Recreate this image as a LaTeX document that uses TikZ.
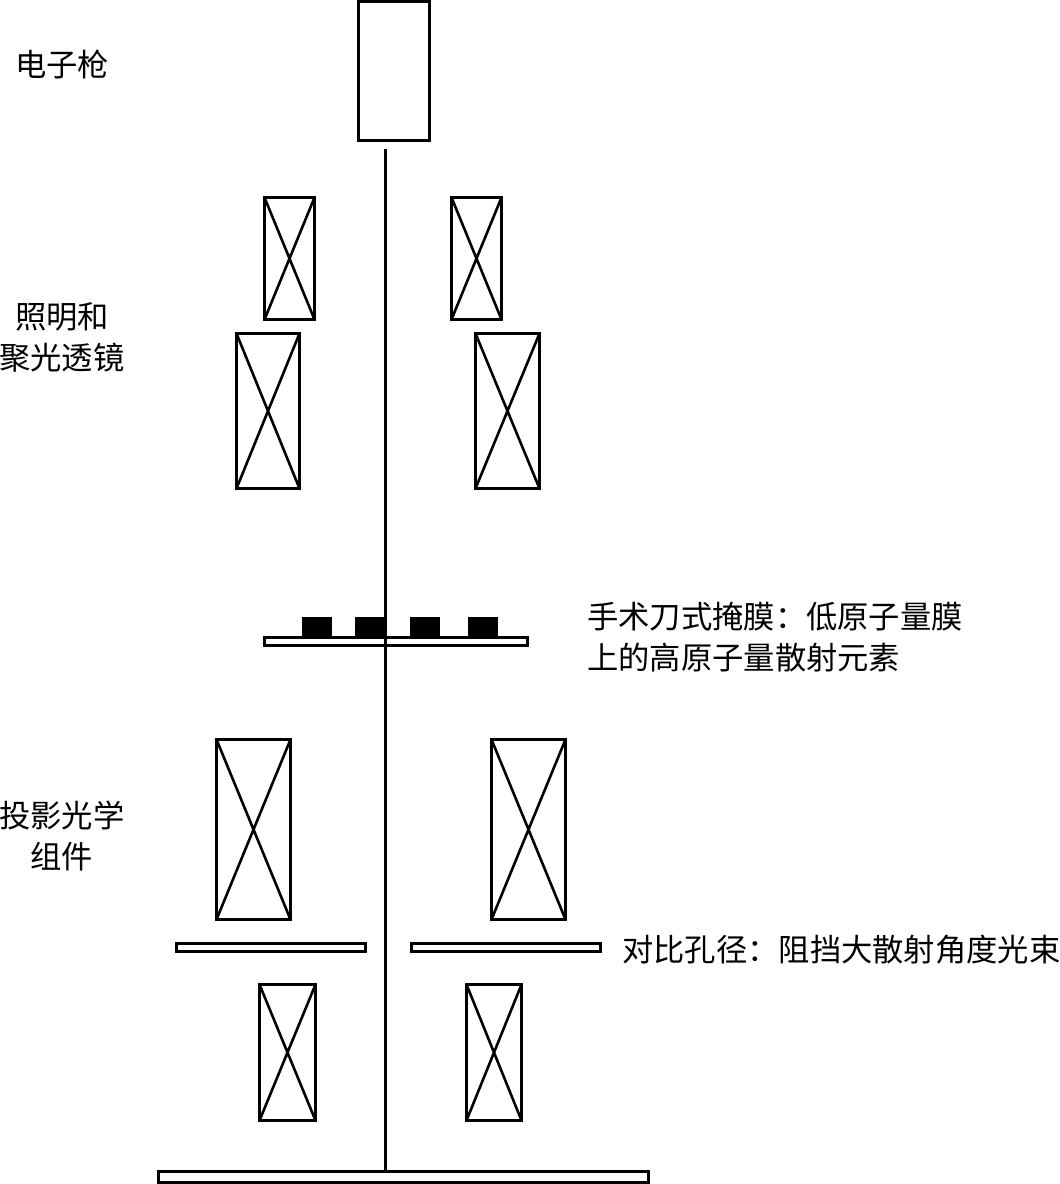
\documentclass[tikz,border=0pt]{standalone}
\usepackage{fontspec}
\setmainfont{Noto Sans CJK SC}
\tikzset{
  box/.style={draw=black,line width=3pt,fill=white,inner sep=0pt},
  lens/.style={box,path picture={\draw[line width=2.6pt] (path picture bounding box.north west) -- (path picture bounding box.south east) (path picture bounding box.north east) -- (path picture bounding box.south west);}},
  block/.style={draw=black,fill=black,inner sep=0pt,minimum width=29pt,minimum height=19pt},
  lbl/.style={inner sep=0pt,font=\fontsize{31.3}{41}\selectfont}
}
\begin{document}
\begin{tikzpicture}[x=1pt,y=-1pt]
	\useasboundingbox (0,0) rectangle (1060,1184);

	\node (gun)	at	(394,70.5) [box,minimum width=71pt,minimum height=139pt] {};
	\node (lensa)	at	(289.5,258.5) [lens,minimum width=50pt,minimum height=122pt] {};
	\node (lensb)	at	(476.5,258.5) [lens,minimum width=50pt,minimum height=122pt] {};
	\node (lensc)	at	(268,411) [lens,minimum width=63pt,minimum height=155pt] {};
	\node (lensd)	at	(507.5,411) [lens,minimum width=64pt,minimum height=155pt] {};

	\node (mask)	at	(396,641) [box,minimum width=263pt,minimum height=8pt] {};
	\node (blocka)	at	(316.5,626.5) [block] {};
	\node (blockb)	at	(369.5,626.5) [block] {};
	\node (blockc)	at	(424.5,626.5) [block] {};
	\node (blockd)	at	(482.5,626.5) [block] {};

	\node (lense)	at	(253.5,829.5) [lens,minimum width=74pt,minimum height=180pt] {};
	\node (lensf)	at	(528.5,829.5) [lens,minimum width=74pt,minimum height=180pt] {};
	\node (apa)	at	(271,947) [box,minimum width=189pt,minimum height=8pt] {};
	\node (apb)	at	(506,947) [box,minimum width=189pt,minimum height=8pt] {};
	\node (lensg)	at	(287.5,1052.5) [lens,minimum width=56pt,minimum height=136pt] {};
	\node (lensh)	at	(494,1052.5) [lens,minimum width=55pt,minimum height=136pt] {};
	\node (wafer)	at	(403.5,1176.5) [box,minimum width=490pt,minimum height=11pt] {};

	\coordinate (beam) at (385.6,149);
	\draw[line width=3.2pt] (beam) -- (beam |- wafer.north);

	\node (gunlabel)	at	(62,64) [lbl] {电子枪};
	\node (illumlabel)	at	(62,337) [lbl,align=center] {照明和\\聚光透镜};
	\node (masklabel)	at	(587,637) [lbl,anchor=west,align=left] {手术刀式掩膜：低原子量膜\\上的高原子量散射元素};
	\node (projlabel)	at	(62,836) [lbl,align=center] {投影光学\\组件};
	\node (aplabel)	at	(622,950) [lbl,anchor=west] {对比孔径：阻挡大散射角度光束};
\end{tikzpicture}
\end{document}
